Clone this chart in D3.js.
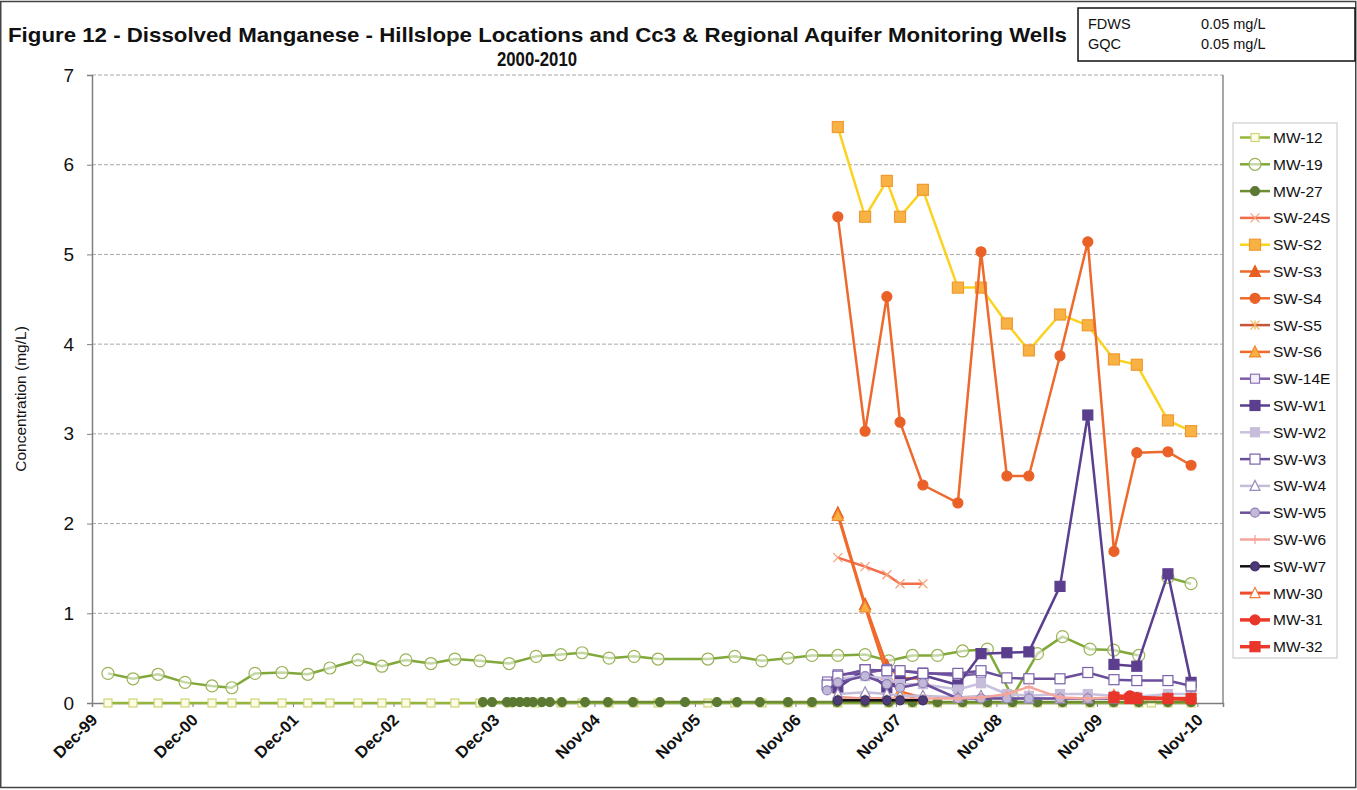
<!DOCTYPE html>
<html><head><meta charset="utf-8">
<script src="https://cdn.jsdelivr.net/npm/d3@7"></script>
<style>
body{margin:0;background:#fff}
svg{display:block}
text{font-family:"Liberation Sans",Arial,sans-serif}
</style>
</head><body>
<svg id="c" width="1357" height="790"></svg>
<script>
// ---------------- DATA ----------------
const titleLine1 = "Figure 12 - Dissolved Manganese - Hillslope Locations and Cc3 & Regional Aquifer Monitoring Wells";
const titleLine2 = "2000-2010";
const yTitle = "Concentration (mg/L)";
const yTicks = [0,1,2,3,4,5,6,7];
const xTickDates = ["1999-12-02","2000-12-01","2001-12-01","2002-12-01","2003-12-01","2004-11-30","2005-11-30","2006-11-30","2007-11-30","2008-11-29","2009-11-29","2010-11-29"];
const xTickLabels = ["Dec-99","Dec-00","Dec-01","Dec-02","Dec-03","Nov-04","Nov-05","Nov-06","Nov-07","Nov-08","Nov-09","Nov-10"];
const stdNames = ["FDWS","GQC"];
const stdValues = ["0.05 mg/L","0.05 mg/L"];

const wellDates = ["2000-01-29","2000-04-29","2000-07-29","2000-11-04","2001-02-10","2001-04-23","2001-07-16","2001-10-22","2002-01-24","2002-04-14","2002-07-25","2002-10-20","2003-01-15","2003-04-16","2003-07-12","2003-10-11","2004-01-25","2004-05-02","2004-07-31","2004-10-16","2005-01-22","2005-04-23","2005-07-19","2006-01-16","2006-04-24","2006-07-31","2006-11-03","2007-01-29","2007-05-03","2007-08-10","2007-11-04","2008-01-29","2008-04-29","2008-07-29","2008-10-27","2009-01-26","2009-04-27","2009-07-27","2009-11-04","2010-01-29","2010-04-30","2010-06-15","2010-08-14","2010-11-06"];
const mw12 = [0,0,0,0,0,0,0,0,0,0,0,0,0,0,0,0,0,0,0,0,0,0,0,0,0,0,0,0,0,0,0,0,0,0,0,0,0,0,0,0,0,0,0,0];
const mw19 = [0.33,0.27,0.32,0.23,0.19,0.17,0.33,0.34,0.32,0.39,0.48,0.41,0.48,0.44,0.49,0.47,0.44,0.52,0.54,0.56,0.50,0.52,0.49,0.49,0.52,0.47,0.50,0.53,0.53,0.54,0.47,0.53,0.53,0.58,0.60,0.07,0.55,0.74,0.60,0.59,0.53,null,1.40,1.33];

const mw27Dates = ["2003-10-22","2003-11-24","2004-01-17","2004-02-08","2004-03-04","2004-03-30","2004-04-21","2004-05-23","2004-06-21","2004-08-04","2004-10-27","2005-01-18","2005-04-19","2005-07-26","2005-10-25","2006-02-18","2006-05-02","2006-07-24","2006-11-03","2007-01-29","2007-04-30","2007-08-10","2007-11-04","2008-01-29","2008-04-29","2008-07-29","2008-10-27","2009-01-26","2009-04-27","2009-07-27","2009-11-04","2010-01-29","2010-04-30","2010-08-14","2010-11-06"];
const mw27 = [0.01,0.01,0.01,0.01,0.01,0.01,0.01,0.01,0.01,0.01,0.01,0.01,0.01,0.01,0.01,0.01,0.01,0.01,0.01,0.01,0.01,0.01,0.01,0.01,0.01,0.01,0.01,0.01,0.01,0.01,0.01,0.01,0.01,0.01,0.01];

const swDates = ["2007-03-25","2007-05-03","2007-08-10","2007-10-28","2007-12-15","2008-03-07","2008-07-12","2008-10-04","2009-01-06","2009-03-27","2009-07-18","2009-10-27","2010-01-30","2010-04-23","2010-08-14","2010-11-06"];
const sw24s = [null,1.62,1.52,1.43,1.33,1.33,null,null,null,null,null,null,null,null,null,null];
const swS2  = [null,6.42,5.42,5.82,5.42,5.72,4.63,4.63,4.23,3.93,4.33,4.21,3.83,3.77,3.15,3.03];
const swS3  = [null,2.12,1.10,0.42,0.28,0.27,null,null,null,null,null,null,null,null,null,null];
const swS4  = [null,5.42,3.03,4.53,3.13,2.43,2.23,5.03,2.53,2.53,3.87,5.14,1.69,2.79,2.80,2.65];
const swS5  = [null,0.06,0.05,0.05,0.04,0.04,null,null,null,null,null,null,null,null,null,null];
const swS6  = [null,2.09,1.07,0.32,0.13,0.06,null,null,null,null,null,null,null,null,null,null];
const sw14e = [0.24,0.32,0.33,0.38,0.36,0.34,0.30,0.33,null,null,null,null,null,null,null,null];
const swW1  = [null,0.17,0.37,0.17,0.24,0.31,0.20,0.55,0.56,0.57,1.30,3.21,0.43,0.41,1.44,0.23];
const swW2  = [0.18,0.27,0.30,0.27,0.21,0.21,0.15,0.22,0.10,0.08,0.10,0.10,0.08,0.07,0.10,0.10];
const swW3  = [0.20,0.30,0.37,0.36,0.36,0.33,0.33,0.36,0.28,0.27,0.27,0.34,0.26,0.25,0.25,0.19];
const swW4  = [null,0.10,0.12,0.10,0.08,0.08,0.06,0.08,0.06,0.05,0.05,0.05,0.05,0.05,0.05,0.05];
const swW5  = [0.14,0.23,0.30,0.21,0.17,0.22,0.05,0.05,0.05,0.05,0.05,0.05,0.05,0.05,0.05,0.05];
const swW6  = [null,0.05,0.05,0.05,0.05,0.05,0.05,0.06,0.10,0.18,0.06,0.05,0.06,0.05,0.05,0.05];
const swW7  = [null,0.03,0.03,0.03,0.03,0.03,null,null,null,null,null,null,null,null,null,null];

const recentDates = ["2010-01-30","2010-03-29","2010-04-23","2010-08-14","2010-11-06"];
const mw30 = [0.09,0.06,0.05,0.05,0.05];
const mw31 = [0.07,0.08,0.06,0.05,0.04];
const mw32 = [0.06,0.05,0.05,0.05,0.05];

// ---------------- STYLES ----------------
const series = [
 {name:"MW-12", dates:wellDates, values:mw12, line:"#95b53c", lw:2.5, mk:"square", fill:"#fbfbe6", stroke:"#cfd676", size:8},
 {name:"MW-19", dates:wellDates, values:mw19, line:"#80a83a", lw:2.5, mk:"circle", fill:"rgba(255,255,255,0.55)", stroke:"#9ab358", size:12},
 {name:"MW-27", dates:mw27Dates, values:mw27, line:"#6e8c36", lw:2.5, mk:"circle", fill:"#5b7932", stroke:"#5b7932", size:9},
 {name:"SW-24S", dates:swDates, values:sw24s, line:"#f26c4a", lw:2.5, mk:"x", fill:"none", stroke:"#f7a27a", size:9},
 {name:"SW-S2", dates:swDates, values:swS2, line:"#fbd21f", lw:2.5, mk:"square", fill:"#f8b244", stroke:"#f09a30", size:11},
 {name:"SW-S3", dates:swDates, values:swS3, line:"#ed6a2c", lw:2.5, mk:"triangle", fill:"#e85f22", stroke:"#e85f22", size:10},
 {name:"SW-S4", dates:swDates, values:swS4, line:"#ed6a2c", lw:2.5, mk:"circle", fill:"#ea6128", stroke:"#ea6128", size:10},
 {name:"SW-S5", dates:swDates, values:swS5, line:"#c8553a", lw:2.5, mk:"star", fill:"none", stroke:"#f3b860", size:9},
 {name:"SW-S6", dates:swDates, values:swS6, line:"#f26a2a", lw:2.5, mk:"triangle", fill:"#f8b040", stroke:"#f08a30", size:10},
 {name:"SW-14E", dates:swDates, values:sw14e, line:"#7e5ca8", lw:2.5, mk:"square", fill:"#f4f0fa", stroke:"#8b73b8", size:9},
 {name:"SW-W1", dates:swDates, values:swW1, line:"#5b3f8e", lw:2.5, mk:"square", fill:"#5b3f8e", stroke:"#5b3f8e", size:10},
 {name:"SW-W2", dates:swDates, values:swW2, line:"#c9c1dd", lw:2.5, mk:"square", fill:"#c5bdda", stroke:"#c5bdda", size:9},
 {name:"SW-W3", dates:swDates, values:swW3, line:"#6a4f9a", lw:2.5, mk:"square", fill:"#ffffff", stroke:"#7a62a8", size:10},
 {name:"SW-W4", dates:swDates, values:swW4, line:"#c4bcd8", lw:2.5, mk:"triangle", fill:"#ffffff", stroke:"#9a8cbc", size:9},
 {name:"SW-W5", dates:swDates, values:swW5, line:"#6b4f9c", lw:2.5, mk:"circle", fill:"#c2b9d9", stroke:"#8e7fb5", size:9},
 {name:"SW-W6", dates:swDates, values:swW6, line:"#f6a59c", lw:2.5, mk:"plus", fill:"none", stroke:"#f6a59c", size:9},
 {name:"SW-W7", dates:swDates, values:swW7, line:"#111111", lw:2.5, mk:"circle", fill:"#4d3b78", stroke:"#3d2f60", size:9},
 {name:"MW-30", dates:recentDates, values:mw30, line:"#ef4b2c", lw:3, mk:"triangle", fill:"#ffffff", stroke:"#f07a3a", size:9},
 {name:"MW-31", dates:recentDates, values:mw31, line:"#ec3a2a", lw:3.5, mk:"circle", fill:"#e8362a", stroke:"#e8362a", size:10},
 {name:"MW-32", dates:recentDates, values:mw32, line:"#ec3a2a", lw:3.5, mk:"square", fill:"#e8362a", stroke:"#e8362a", size:10}
];

// ---------------- CHART ----------------
const svg = d3.select("#c");
const M = {l:92, r:1223, t:75, b:703};
const parse = d3.utcParse("%Y-%m-%d");
const x = d3.scaleUtc().domain([parse("1999-12-02"), parse("2011-03-02")]).range([M.l, M.r]);
const y = d3.scaleLinear().domain([0,7]).range([M.b, M.t]);

svg.append("rect").attr("x",0.75).attr("y",1.5).attr("width",1355).attr("height",786)
  .attr("fill","#fff").attr("stroke","#444").attr("stroke-width",1.5);

// gridlines
svg.append("g").selectAll("line").data(yTicks.filter(d=>d>0)).join("line")
  .attr("x1",M.l).attr("x2",M.r).attr("y1",d=>y(d)).attr("y2",d=>y(d))
  .attr("stroke","#a8a8a8").attr("stroke-width",1).attr("stroke-dasharray","4,2");
// plot frame right
svg.append("line").attr("x1",M.r).attr("x2",M.r).attr("y1",M.t).attr("y2",M.b)
  .attr("stroke","#8a8a8a").attr("stroke-width",1.5);

// y axis
const ya = svg.append("g").attr("transform",`translate(${M.l},0)`)
  .call(d3.axisLeft(y).tickValues(yTicks).tickSize(5).tickPadding(13).tickFormat(d3.format("d")));
ya.select(".domain").attr("stroke","#7f7f7f").attr("stroke-width",1.5);
ya.selectAll(".tick line").attr("stroke","#7f7f7f");
ya.selectAll("text").attr("font-size",19).attr("fill","#111").attr("font-family","Liberation Sans, Arial, sans-serif");

// x axis
const xa = svg.append("g").attr("transform",`translate(0,${M.b})`)
  .call(d3.axisBottom(x).tickValues(xTickDates.map(parse)).tickSize(4).tickFormat((d,i)=>xTickLabels[i]));
xa.select(".domain").attr("stroke","#7f7f7f").attr("stroke-width",1.5);
xa.selectAll(".tick line").attr("stroke","#7f7f7f");
xa.selectAll("text").attr("font-size",16.5).attr("font-weight","bold").attr("fill","#111")
  .attr("font-family","Liberation Sans, Arial, sans-serif")
  .attr("text-anchor","end").attr("x",0).attr("y",0).attr("dy","0.35em")
  .attr("transform","translate(2,14) rotate(-45)");

// series
const line = d3.line().defined(d=>d.v!=null).x(d=>x(d.d)).y(d=>y(d.v));
function marker(g, s, cx, cy) {
  const h = s.size/2;
  if (s.mk==="square") g.append("rect").attr("x",cx-h).attr("y",cy-h).attr("width",s.size).attr("height",s.size).attr("fill",s.fill).attr("stroke",s.stroke).attr("stroke-width",1.2);
  else if (s.mk==="circle") g.append("circle").attr("cx",cx).attr("cy",cy).attr("r",h).attr("fill",s.fill).attr("stroke",s.stroke).attr("stroke-width",1.2);
  else if (s.mk==="triangle") g.append("path").attr("d",`M${cx},${cy-h-1}L${cx+h+0.5},${cy+h}L${cx-h-0.5},${cy+h}Z`).attr("fill",s.fill).attr("stroke",s.stroke).attr("stroke-width",1.2);
  else if (s.mk==="x") g.append("path").attr("d",`M${cx-h},${cy-h}L${cx+h},${cy+h}M${cx-h},${cy+h}L${cx+h},${cy-h}`).attr("stroke",s.stroke).attr("stroke-width",1.3).attr("fill","none");
  else if (s.mk==="star") g.append("path").attr("d",`M${cx-h},${cy-h}L${cx+h},${cy+h}M${cx-h},${cy+h}L${cx+h},${cy-h}M${cx},${cy-h}L${cx},${cy+h}`).attr("stroke",s.stroke).attr("stroke-width",1.3).attr("fill","none");
  else if (s.mk==="plus") g.append("path").attr("d",`M${cx-h},${cy}L${cx+h},${cy}M${cx},${cy-h}L${cx},${cy+h}`).attr("stroke",s.stroke).attr("stroke-width",1.3).attr("fill","none");
}
const gS = svg.append("g");
series.forEach(s=>{
  const pts = s.dates.map((d,i)=>({d:parse(d), v:s.values[i]}));
  const g = gS.append("g");
  g.append("path").datum(pts).attr("d",line).attr("fill","none").attr("stroke",s.line)
    .attr("stroke-width",s.lw).attr("stroke-linejoin","round");
  pts.filter(p=>p.v!=null).forEach(p=>marker(g, s, x(p.d), y(p.v)));
});

// titles
svg.append("text").attr("x",8).attr("y",42).attr("font-size",21).attr("font-weight","bold").attr("fill","#111")
  .attr("textLength",1059).attr("lengthAdjust","spacingAndGlyphs").text(titleLine1);
svg.append("text").attr("x",497).attr("y",66).attr("font-size",21).attr("font-weight","bold").attr("fill","#111")
  .attr("textLength",80).attr("lengthAdjust","spacingAndGlyphs").text(titleLine2);
svg.append("text").attr("transform","translate(26,399) rotate(-90)").attr("text-anchor","middle")
  .attr("font-size",15.5).attr("fill","#111").text(yTitle);

// standards box
svg.append("rect").attr("x",1078).attr("y",8).attr("width",277).attr("height",53)
  .attr("fill","#fff").attr("stroke","#111").attr("stroke-width",1.5);
stdNames.forEach((n,i)=>{
  svg.append("text").attr("x",1088).attr("y",29+i*20).attr("font-size",14.5).attr("font-family","Lato, Carlito, sans-serif").attr("fill","#111").text(n);
  svg.append("text").attr("x",1201).attr("y",29+i*20).attr("font-size",14.5).attr("font-family","Lato, Carlito, sans-serif").attr("fill","#111").text(stdValues[i]);
});

// legend
const lg = svg.append("g");
lg.append("rect").attr("x",1233).attr("y",123).attr("width",104).attr("height",535)
  .attr("fill","#fff").attr("stroke","#c4c4c4").attr("stroke-width",1);
series.forEach((s,i)=>{
  const cy = 137.5 + i*26.8;
  lg.append("line").attr("x1",1240).attr("x2",1270).attr("y1",cy).attr("y2",cy).attr("stroke",s.line).attr("stroke-width",s.lw);
  marker(lg, s, 1255, cy);
  lg.append("text").attr("x",1273).attr("y",cy).attr("dy","0.36em").attr("font-size",15.5).attr("fill","#111").text(s.name);
});
</script>
</body></html>
